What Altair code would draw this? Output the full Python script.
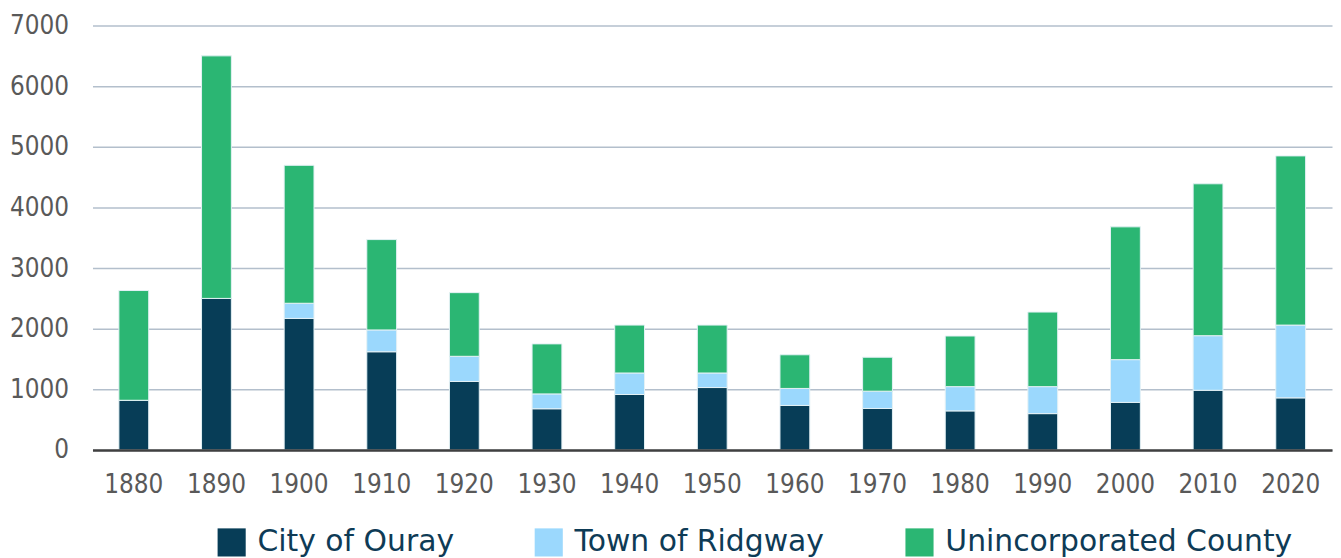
import altair as alt
import pandas as pd

years = ["1880", "1890", "1900", "1910", "1920", "1930", "1940", "1950",
         "1960", "1970", "1980", "1990", "2000", "2010", "2020"]
series = ["City of Ouray", "Town of Ridgway", "Unincorporated County"]
ouray = [820, 2500, 2170, 1620, 1130, 680, 915, 1030, 735, 685, 645, 600, 785, 985, 860]
ridgway = [0, 0, 250, 360, 415, 245, 355, 240, 280, 285, 400, 445, 705, 900, 1200]
uninc = [1810, 4000, 2275, 1490, 1050, 825, 790, 790, 555, 560, 835, 1230, 2190, 2505, 2790]
colors = ["#073d57", "#9bd8fd", "#2bb673"]
y_ticks = [0, 1000, 2000, 3000, 4000, 5000, 6000, 7000]

rows = []
for i, y in enumerate(years):
    for k, (name, vals) in enumerate(zip(series, [ouray, ridgway, uninc])):
        rows.append({"year": y, "series": name, "value": vals[i], "ord": k})
df = pd.DataFrame(rows)

axis_font = "'Liberation Sans Narrow', 'DejaVu Sans Condensed', 'Liberation Sans', sans-serif"

chart = alt.Chart(df).mark_bar(size=30, stroke="#e4f1f5", strokeWidth=1).encode(
    x=alt.X("year:N", sort=years,
            axis=alt.Axis(title=None, labelAngle=0, ticks=False, labelPadding=22,
                          labelFont=axis_font, labelFontSize=26,
                          labelColor="#595959", domainColor="#404040",
                          domainWidth=2.5, zindex=1)),
    y=alt.Y("value:Q", stack="zero",
            scale=alt.Scale(domain=[0, 7000], nice=False),
            axis=alt.Axis(title=None, values=y_ticks, format="d", domain=False,
                          ticks=False, labelPadding=24, labelFont=axis_font,
                          labelFontSize=26, labelColor="#595959",
                          gridColor="#b3bfcc", gridWidth=1.5)),
    color=alt.Color("series:N",
                    scale=alt.Scale(domain=series, range=colors),
                    legend=alt.Legend(title=None, orient="none", direction="horizontal",
                                      legendX=125, legendY=505,
                                      symbolType="square", symbolSize=800,
                                      symbolStrokeWidth=0, labelFont="DejaVu Sans",
                                      labelFontSize=30, labelColor="#0e3b56",
                                      labelOffset=11, columnPadding=80,
                                      labelLimit=600)),
    order=alt.Order("ord:Q", sort="ascending"),
).properties(
    width=1247, height=427, autosize="none",
    padding={"left": 85, "top": 16, "right": 1, "bottom": 107},
).configure_view(stroke=None)

chart.save("out.html", embed_options={"renderer": "svg", "actions": False})
